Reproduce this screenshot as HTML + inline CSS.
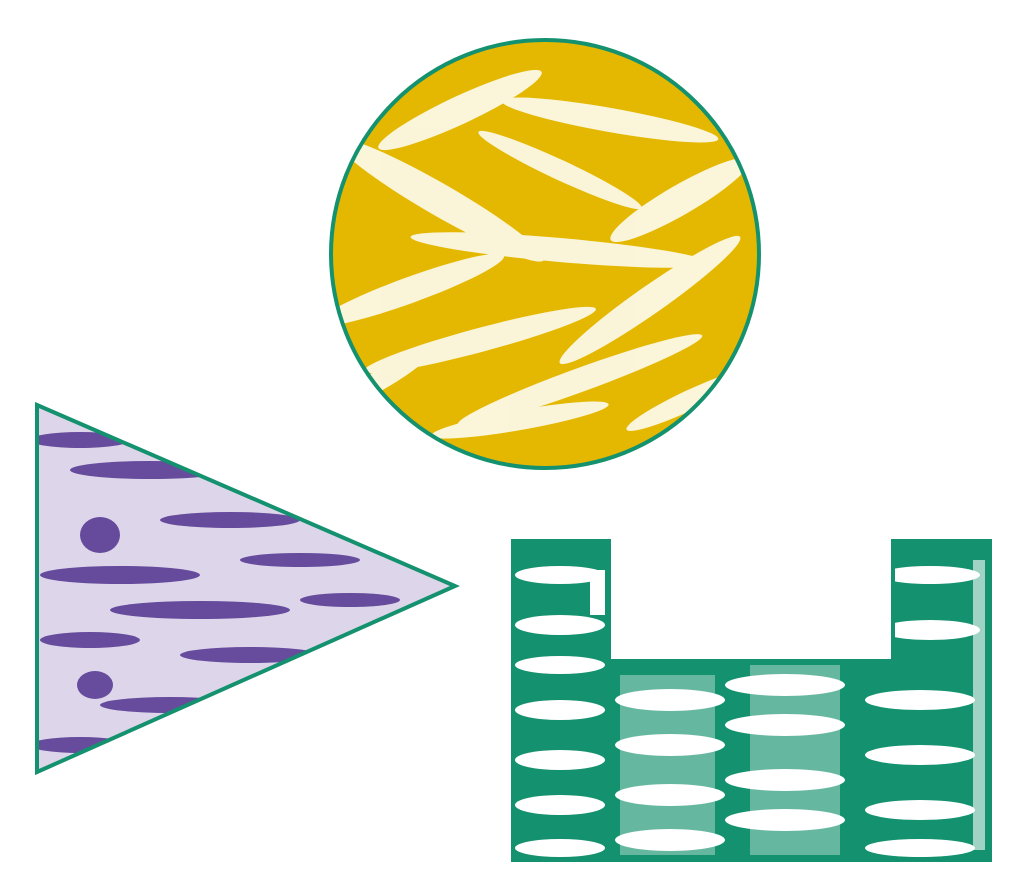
<!DOCTYPE html>
<html><head><meta charset="utf-8"><style>html,body{margin:0;padding:0;background:#fff}svg{display:block}</style></head>
<body>
<svg width="1024" height="896" viewBox="0 0 1024 896" xmlns="http://www.w3.org/2000/svg">
<defs>
<clipPath id="cc"><circle cx="545" cy="254" r="214"/></clipPath>
<clipPath id="tc"><polygon points="37,405 455,586 37,772"/></clipPath>
<clipPath id="uc"><path d="M513,541 H609 V661 H893 V541 H990 V860 H513 Z"/></clipPath>
</defs>
<g clip-path="url(#cc)">
<rect x="320" y="30" width="450" height="450" fill="#e4b800"/>
<g fill="#fff" opacity="0.85">
<ellipse cx="460" cy="110" rx="90" ry="14" transform="rotate(-25 460 110)"/>
<ellipse cx="610" cy="120" rx="110" ry="12" transform="rotate(10 610 120)"/>
<ellipse cx="680" cy="200" rx="80" ry="15" transform="rotate(-30 680 200)"/>
<ellipse cx="440" cy="200" rx="120" ry="16" transform="rotate(30 440 200)"/>
<ellipse cx="560" cy="250" rx="150" ry="12" transform="rotate(5 560 250)"/>
<ellipse cx="410" cy="290" rx="100" ry="13" transform="rotate(-20 410 290)"/>
<ellipse cx="650" cy="300" rx="110" ry="14" transform="rotate(-35 650 300)"/>
<ellipse cx="480" cy="340" rx="120" ry="12" transform="rotate(-15 480 340)"/>
<ellipse cx="580" cy="380" rx="130" ry="12" transform="rotate(-20 580 380)"/>
<ellipse cx="520" cy="420" rx="90" ry="10" transform="rotate(-10 520 420)"/>
<ellipse cx="690" cy="400" rx="70" ry="10" transform="rotate(-25 690 400)"/>
<ellipse cx="380" cy="380" rx="60" ry="10" transform="rotate(-30 380 380)"/>
<ellipse cx="560" cy="170" rx="90" ry="10" transform="rotate(25 560 170)"/>
</g>
</g>
<circle cx="545" cy="254" r="214" fill="none" stroke="#14916e" stroke-width="4"/>
<g clip-path="url(#tc)">
<rect x="30" y="400" width="430" height="380" fill="#ddd6ea"/>
<g fill="#5a3c95" opacity="0.9">
<ellipse cx="80" cy="440" rx="50" ry="8"/>
<ellipse cx="150" cy="470" rx="80" ry="9"/>
<ellipse cx="100" cy="535" rx="20" ry="18"/>
<ellipse cx="230" cy="520" rx="70" ry="8"/>
<ellipse cx="120" cy="575" rx="80" ry="9"/>
<ellipse cx="300" cy="560" rx="60" ry="7"/>
<ellipse cx="200" cy="610" rx="90" ry="9"/>
<ellipse cx="350" cy="600" rx="50" ry="7"/>
<ellipse cx="90" cy="640" rx="50" ry="8"/>
<ellipse cx="250" cy="655" rx="70" ry="8"/>
<ellipse cx="95" cy="685" rx="18" ry="14"/>
<ellipse cx="170" cy="705" rx="70" ry="8"/>
<ellipse cx="80" cy="745" rx="50" ry="8"/>
</g>
</g>
<polygon points="37,405 455,586 37,772" fill="none" stroke="#14916e" stroke-width="4"/>
<g clip-path="url(#uc)">
<rect x="510" y="538" width="485" height="325" fill="#14916e"/>
<g fill="#fff">
<!-- column 1 -->
<ellipse cx="560" cy="575" rx="45" ry="9"/>
<ellipse cx="560" cy="625" rx="45" ry="10"/>
<ellipse cx="560" cy="665" rx="45" ry="9"/>
<ellipse cx="560" cy="710" rx="45" ry="10"/>
<ellipse cx="560" cy="760" rx="45" ry="10"/>
<ellipse cx="560" cy="805" rx="45" ry="10"/>
<ellipse cx="560" cy="848" rx="45" ry="9"/>
<rect x="590" y="570" width="15" height="45"/>
<!-- column 2 -->
<rect x="620" y="675" width="95" height="180" fill="#fff" opacity="0.35"/>
<ellipse cx="670" cy="700" rx="55" ry="11"/>
<ellipse cx="670" cy="745" rx="55" ry="11"/>
<ellipse cx="670" cy="795" rx="55" ry="11"/>
<ellipse cx="670" cy="840" rx="55" ry="11"/>
<!-- column 3 -->
<rect x="750" y="665" width="90" height="190" fill="#fff" opacity="0.35"/>
<ellipse cx="785" cy="685" rx="60" ry="11"/>
<ellipse cx="785" cy="725" rx="60" ry="11"/>
<ellipse cx="785" cy="780" rx="60" ry="11"/>
<ellipse cx="785" cy="820" rx="60" ry="11"/>
<!-- column 4 -->
<ellipse cx="930" cy="575" rx="50" ry="9"/>
<ellipse cx="930" cy="630" rx="50" ry="10"/>
<ellipse cx="920" cy="700" rx="55" ry="10"/>
<ellipse cx="920" cy="755" rx="55" ry="10"/>
<ellipse cx="920" cy="810" rx="55" ry="10"/>
<ellipse cx="920" cy="848" rx="55" ry="9"/>
<rect x="973" y="560" width="12" height="290" opacity="0.6"/>
</g>
</g>
<path d="M513,541 H609 V661 H893 V541 H990 V860 H513 Z" fill="none" stroke="#14916e" stroke-width="4"/>
</svg>
</body></html>
